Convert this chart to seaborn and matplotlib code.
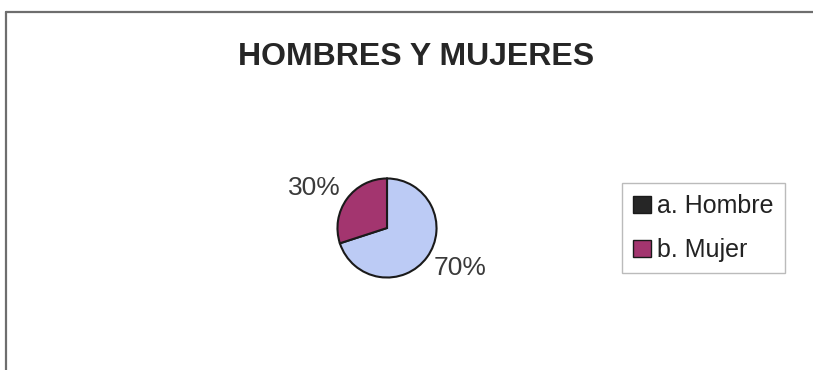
import matplotlib
matplotlib.use("Agg")
import numpy as np
import matplotlib.pyplot as plt
from matplotlib.lines import Line2D
from matplotlib.patches import Patch
import seaborn as sns

# Data
categories = ["a. Hombre", "b. Mujer"]
shares = [70, 30]
title = "HOMBRES Y MUJERES"

sns.set_theme(style="white")
plt.rcParams["font.family"] = ["Liberation Sans", "DejaVu Sans"]

W, H = 813, 370
fig = plt.figure(figsize=(W / 100, H / 100), dpi=100)
fig.patch.set_facecolor("white")

# Chart frame: top and left edges
fig.add_artist(Line2D([6 / W, 1.0], [1 - 12 / H, 1 - 12 / H], color="#6e6e6e", lw=1.6))
fig.add_artist(Line2D([6 / W, 6 / W], [1 - 12 / H, 0.0], color="#6e6e6e", lw=1.6))

fig.text(416 / W, 1 - 57 / H, title, ha="center", va="center",
         fontsize=23, fontweight="bold", color="#262626")

# Pie area
cx, cy, r = 387, 228, 52
ax = fig.add_axes([(cx - r) / W, 1 - (cy + r) / H, 2 * r / W, 2 * r / H])
colors = ["#bccbf5", "#a3356f"]
wedges, texts = ax.pie(
    shares,
    colors=colors,
    startangle=90,
    counterclock=False,
    labels=[f"{v}%" for v in shares],
    wedgeprops=dict(edgecolor="#1a1a1a", linewidth=1.5),
    textprops=dict(fontsize=19, color="#3a3a3a"),
)
# Place each percentage just outside its wedge, nudged slightly counter-clockwise
label_dist, label_turn = 1.68, 7.0
for w, t in zip(wedges, texts):
    mid = np.deg2rad((w.theta1 + w.theta2) / 2 + label_turn)
    t.set_position((label_dist * np.cos(mid), label_dist * np.sin(mid)))
    t.set_ha("center")
    t.set_va("center")
ax.set_aspect("equal")
ax.set_xlim(-1.05, 1.05)
ax.set_ylim(-1.05, 1.05)
ax.axis("off")

handles = [
    Patch(facecolor="#262626", edgecolor="#1a1a1a", label=categories[0]),
    Patch(facecolor=colors[1], edgecolor="#1a1a1a", label=categories[1]),
]
leg = fig.legend(
    handles=handles,
    loc="center left",
    bbox_to_anchor=(622 / W, 1 - 228 / H),
    fontsize=18,
    frameon=True,
    fancybox=False,
    edgecolor="#aaaaaa",
    handlelength=0.7,
    handleheight=0.7,
    handletextpad=0.25,
    labelspacing=0.8,
    borderpad=0.45,
    borderaxespad=0,
)
leg.get_frame().set_linewidth(1.0)
for t in leg.get_texts():
    t.set_color("#222222")
    t.set_fontweight("medium")

fig.savefig("out.png", dpi=100, facecolor="white")
